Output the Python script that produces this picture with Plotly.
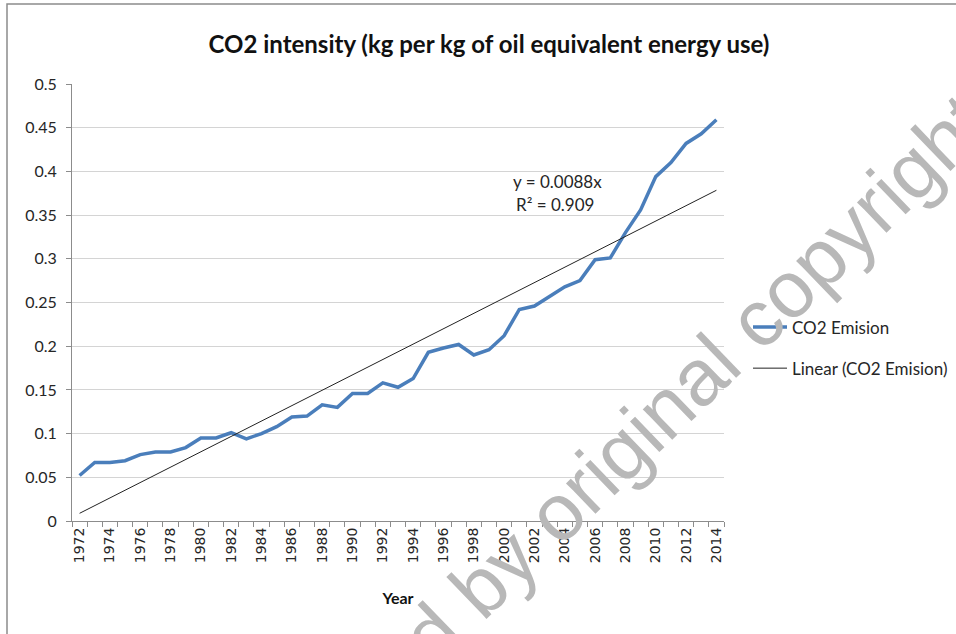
import plotly.graph_objects as go

# ---- data ----
years = list(range(1972, 2015))
co2_emision = [0.052, 0.067, 0.067, 0.069, 0.076, 0.079, 0.079, 0.084, 0.095, 0.095,
               0.101, 0.094, 0.100, 0.108, 0.119, 0.120, 0.133, 0.130, 0.146, 0.146,
               0.158, 0.153, 0.163, 0.193, 0.198, 0.202, 0.190, 0.196, 0.212, 0.242,
               0.246, 0.257, 0.268, 0.275, 0.299, 0.301, 0.330, 0.356, 0.394, 0.410,
               0.432, 0.443, 0.459]
trend_slope = 0.0088
trend_r2 = 0.909
label_years = years[::2]
label_text = [str(y) for y in label_years]
y_ticks = [0, 0.05, 0.1, 0.15, 0.2, 0.25, 0.3, 0.35, 0.4, 0.45, 0.5]
y_ticktext = ["0", "0.05", "0.1", "0.15", "0.2", "0.25", "0.3", "0.35", "0.4", "0.45", "0.5"]

trend_vals = [trend_slope * (y - years[0] + 1) for y in years]

W, H = 956, 634
L, R, T, B = 72, 232, 84, 113
pw, ph = W - L - R, H - T - B

def px_x(x):
    return (x - L) / pw

def px_y(y):
    return (H - B - y) / ph

fig = go.Figure()
fig.add_trace(go.Scatter(
    x=years, y=co2_emision, mode="lines", name="CO2 Emision",
    line=dict(color="#4a7ebb", width=3.5), legendgroup="a"))
fig.add_trace(go.Scatter(
    x=years, y=trend_vals, mode="lines", name="Linear (CO2 Emision)",
    line=dict(color="#222222", width=1), legendgroup="b"))

grey = "#8c8c8c"
fig.update_layout(
    width=W, height=H,
    margin=dict(l=L, r=R, t=T, b=B, autoexpand=False),
    paper_bgcolor="white", plot_bgcolor="white",
    font=dict(family="Lato", color="#262626"),
    title=dict(text="<b>CO2 intensity (kg per kg of oil equivalent energy use)</b>",
               x=489 / W, xref="container", xanchor="center",
               y=1 - 45 / H, yref="container", yanchor="middle",
               font=dict(family="Lato", size=24, color="#111111")),
    showlegend=True,
    legend=dict(x=px_x(748), xanchor="left", y=px_y(348), yanchor="middle",
                font=dict(family="Lato", size=17, color="#262626"),
                tracegroupgap=16, itemwidth=34, bgcolor="rgba(0,0,0,0)"),
    xaxis=dict(
        range=[years[0] - 0.5, years[-1] + 0.5],
        tickmode="array", tickvals=label_years, ticktext=label_text,
        tickangle=-90, ticks="outside", ticklen=0,
        tickfont=dict(family="DejaVu Sans", size=14, color="#262626"),
        showline=True, linecolor=grey, linewidth=1,
        showgrid=False, zeroline=False,
        minor=dict(tickmode="array",
                   tickvals=[y - 0.5 for y in years] + [years[-1] + 0.5],
                   ticks="outside", ticklen=5, tickcolor=grey, showgrid=False),
        title=dict(text="<b>Year</b>", font=dict(family="Lato", size=16, color="#111111"),
                   standoff=30),
    ),
    yaxis=dict(
        range=[0, 0.5], tickmode="array", tickvals=y_ticks, ticktext=y_ticktext,
        ticks="outside", ticklen=5, tickcolor=grey,
        tickfont=dict(family="Lato", size=16, color="#262626"),
        showline=True, linecolor=grey, linewidth=1,
        showgrid=True, gridcolor="#d4d4d4", gridwidth=1, zeroline=False,
        ticklabelstandoff=6,
    ),
)

# chart border
fig.add_shape(type="rect", xref="paper", yref="paper",
              x0=px_x(7), x1=px_x(1200), y0=px_y(900), y1=px_y(4),
              line=dict(color="#8c8c8c", width=1.5), fillcolor="rgba(0,0,0,0)",
              layer="below")

# trendline equation
fig.add_annotation(xref="paper", yref="paper", x=px_x(557), y=px_y(181),
                   xanchor="center", yanchor="middle",
                   text=f"y = {trend_slope}x", showarrow=False,
                   font=dict(family="Lato", size=17, color="#262626"))
fig.add_annotation(xref="paper", yref="paper", x=px_x(555), y=px_y(204),
                   xanchor="center", yanchor="middle",
                   text=f"R² = {trend_r2}", showarrow=False,
                   font=dict(family="Lato", size=17, color="#262626"))

# watermark
fig.add_annotation(xref="paper", yref="paper", x=px_x(588), y=px_y(482),
                   xanchor="center", yanchor="middle",
                   text="Protected by original copyright", showarrow=False,
                   textangle=-44,
                   font=dict(family="Liberation Sans", size=80, color="#b8b8b8"))

fig.write_html("out.html", config={"displayModeBar": False},
               post_script="document.body.style.margin='0';")
